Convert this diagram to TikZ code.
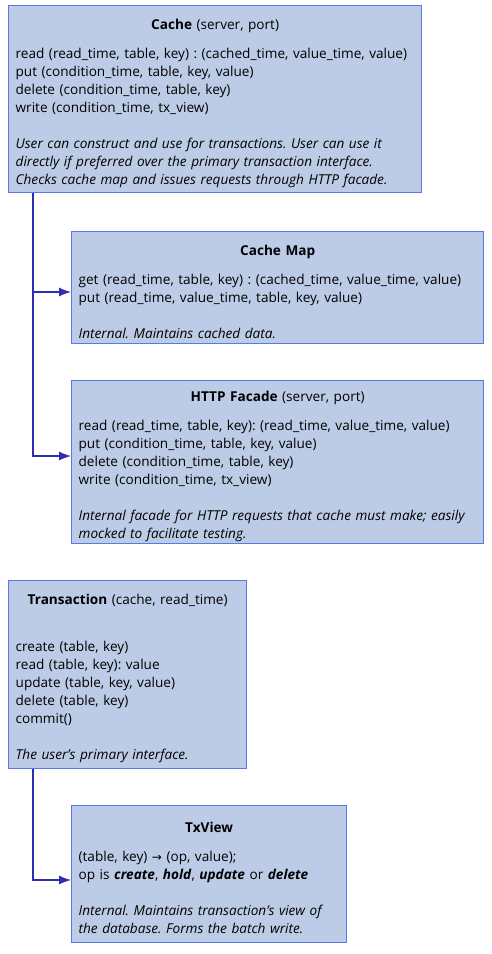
\documentclass[tikz,border=0pt]{standalone}
\usepackage{fontspec}
\setmainfont{Open Sans}
\usepackage{tikz}
\usetikzlibrary{arrows.meta,positioning}

\definecolor{boxfill}{HTML}{BCCCE6}
\definecolor{boxline}{HTML}{5A78E8}
\definecolor{wire}{HTML}{2E2EAE}

\newcommand{\boxtitle}[2][11pt]{\rule{0pt}{18pt}\makebox[\linewidth]{#2}\\[#1]}

\begin{document}
\frenchspacing
\begin{tikzpicture}[x=1pt,y=-1pt,
  box/.style={draw=boxline,fill=boxfill,line width=1.3pt,anchor=north west,
    align=left,inner xsep=7pt,inner ysep=0pt,
    font=\fontsize{13.6}{18}\selectfont},
  wired/.style={draw=wire,line width=1.2pt,-{Latex[length=12pt,width=9pt]}}
]
  \useasboundingbox (0,0) rectangle (491,954);
  \node[box,text width=399pt,minimum height=187pt] (cache) at (8,5) {%
    \boxtitle{\textbf{Cache} (server, port)}
    read (read\_time, table, key) : (cached\_time, value\_time, value)\\
    put (condition\_time, table, key, value)\\
    delete (condition\_time, table, key)\\
    write (condition\_time, tx\_view)\\[18pt]
    \itshape User can construct and use for transactions. User can use it\\
    \itshape directly if preferred over the primary transaction interface.\\
    \itshape Checks cache map and issues requests through HTTP facade.};
  \node[box,text width=398pt,minimum height=112pt] (cachemap) at (71,231) {%
    \boxtitle{\textbf{Cache Map}}
    get (read\_time, table, key) : (cached\_time, value\_time, value)\\
    put (read\_time, value\_time, table, key, value)\\[18pt]
    \itshape Internal. Maintains cached data.};
  \node[box,text width=398pt,minimum height=163pt] (facade) at (71,380) {%
    \boxtitle{\textbf{HTTP Facade} (server, port)}
    read (read\_time, table, key): (read\_time, value\_time, value)\\
    put (condition\_time, table, key, value)\\
    delete (condition\_time, table, key)\\
    write (condition\_time, tx\_view)\\[18pt]
    \itshape Internal facade for HTTP requests that cache must make; easily\\
    \itshape mocked to facilitate testing.};
  \node[box,text width=224pt,minimum height=188pt] (transaction) at (8,580) {%
    \boxtitle[29pt]{\textbf{Transaction} (cache, read\_time)}
    create (table, key)\\
    read (table, key): value\\
    update (table, key, value)\\
    delete (table, key)\\
    commit()\\[18pt]
    \itshape The user's primary interface.};
  \node[box,text width=261pt,minimum height=137pt] (txview) at (71,805) {%
    \boxtitle{\textbf{TxView}}
    (table, key) {\fontspec{DejaVu Sans}\fontsize{12}{18}\selectfont→} (op, value);\\
    op is \textbf{\textit{create}}, \textbf{\textit{hold}}, \textbf{\textit{update}} or \textbf{\textit{delete}}\\[18pt]
    \itshape Internal. Maintains transaction's view of\\
    \itshape the database. Forms the batch write.};
  % connectors
  \draw[wired] ([xshift=25pt]cache.south west) |- ([yshift=-61pt]cachemap.north west);
  \draw[wired] ([xshift=25pt]cache.south west) |- ([yshift=-76pt]facade.north west);
  \draw[wired] ([xshift=25pt]transaction.south west) |- ([yshift=-75pt]txview.north west);
\end{tikzpicture}
\end{document}
